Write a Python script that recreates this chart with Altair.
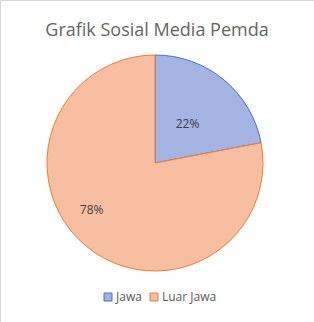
import altair as alt
import pandas as pd

categories = ["Jawa", "Luar Jawa"]
values = [22, 78]
labels = ["22%", "78%"]
fills = ["#a3b3e2", "#f8bea2"]
strokes = ["#4472c4", "#ed7d31"]

df = pd.DataFrame({"cat": categories, "val": values, "label": labels, "order": [0, 1]})

leg = alt.Legend(orient="none", legendX=102, legendY=291, direction="horizontal",
                 title=None, symbolType="square", symbolSize=64, symbolStrokeWidth=1,
                 labelFont="Open Sans", labelFontSize=12, labelColor="#595959",
                 columnPadding=6, labelOffset=2)

color = alt.Color("cat:N", scale=alt.Scale(domain=categories, range=fills), legend=leg)
stroke = alt.Stroke("cat:N", scale=alt.Scale(domain=categories, range=strokes), legend=leg)

theta_scale = alt.Scale(domain=[0, 100])

pie = alt.Chart(df).mark_arc(outerRadius=108, strokeWidth=1).encode(
    theta=alt.Theta("val:Q", stack=True, scale=theta_scale),
    order=alt.Order("order:Q"),
    color=color,
    stroke=stroke,
    x=alt.value(155), y=alt.value(163),
)

stacked = alt.Chart(df).transform_stack(
    stack="val", groupby=[], as_=["v0", "v1"], sort=[alt.SortField("order")]
).transform_calculate(mid="(datum.v0 + datum.v1) / 2")

text1 = stacked.transform_filter(alt.datum.cat == "Jawa").mark_text(
    font="Open Sans", fontSize=12, color="#404040").encode(
    text="label:N",
    theta=alt.Theta("mid:Q", scale=theta_scale),
    radius=alt.value(51),
    x=alt.value(155), y=alt.value(163),
)

text2 = stacked.transform_filter(alt.datum.cat == "Luar Jawa").mark_text(
    font="Open Sans", fontSize=12, color="#404040", dx=-13, dy=-14).encode(
    text="label:N",
    theta=alt.Theta("mid:Q", scale=theta_scale),
    radius=alt.value(79),
    x=alt.value(155), y=alt.value(163),
)

chart = alt.layer(pie, text1, text2).resolve_scale(theta="shared").properties(
    width=314, height=322, padding=0, autosize=alt.AutoSizeParams(type="none"),
    title=alt.TitleParams("Grafik Sosial Media Pemda", font="Open Sans", fontSize=18,
                          fontWeight="normal", color="#646464", offset=-40, anchor="middle"),
).configure_view(stroke="#d9d9d9")

chart.save("out.html", embed_options={"renderer": "svg", "actions": False})
